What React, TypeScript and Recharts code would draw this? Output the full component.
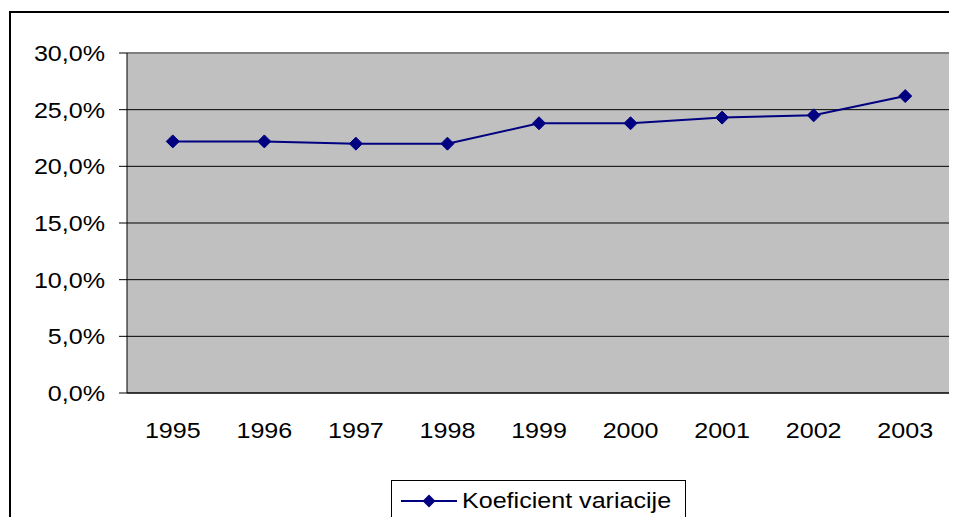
import React from 'react';
import {
  LineChart,
  Line,
  XAxis,
  YAxis,
  CartesianGrid,
  Legend,
  ReferenceLine,
} from 'recharts';

const years = ['1995', '1996', '1997', '1998', '1999', '2000', '2001', '2002', '2003'];
const koeficientVariacije = [0.222, 0.222, 0.22, 0.22, 0.238, 0.238, 0.243, 0.245, 0.262];
const yTicks = [0, 0.05, 0.1, 0.15, 0.2, 0.25, 0.3];
const seriesName = 'Koeficient variacije';

const data = years.map((year, i) => ({ year, pos: i + 0.5, value: koeficientVariacije[i] }));
const labelTicks = years.map((_, i) => i + 0.5);
const boundaryTicks = [0, ...years.map((_, i) => i + 1)];

const FONT = '"Liberation Sans", Arial, sans-serif';
const STRETCH = 1.14;
const NAVY = '#000080';

const pct = (v: number) => (v * 100).toFixed(1).replace('.', ',') + '%';

const YTick = (props: any) => {
  const { x, y, payload } = props;
  return (
    <g transform={`translate(${x},${y})`}>
      <text transform={`scale(${STRETCH},1)`} textAnchor="end" dy="0.36em" fontSize={22} fontFamily={FONT} fill="#000">
        {pct(payload.value)}
      </text>
    </g>
  );
};

const XTick = (props: any) => {
  const { x, y, payload } = props;
  return (
    <g transform={`translate(${x},${y})`}>
      <text transform={`scale(${STRETCH},1)`} textAnchor="middle" dy="0.71em" fontSize={22} fontFamily={FONT} fill="#000">
        {years[Math.floor(payload.value)]}
      </text>
    </g>
  );
};

const Diamond = (props: any) => {
  const { cx, cy, index } = props;
  const r = 6.5;
  return (
    <path
      key={index}
      d={`M${cx},${cy - r}L${cx + r},${cy}L${cx},${cy + r}L${cx - r},${cy}Z`}
      fill={NAVY}
      stroke={NAVY}
    />
  );
};

const LegendBox = () => (
  <div
    style={{
      boxSizing: 'border-box',
      width: 295,
      height: 42,
      border: '1px solid #000',
      background: '#fff',
      display: 'flex',
      alignItems: 'center',
      paddingLeft: 9,
      fontFamily: FONT,
      fontSize: 22,
      color: '#000',
      whiteSpace: 'nowrap',
    }}
  >
    <svg width={56} height={20} style={{ flex: 'none' }}>
      <line x1={0} y1={10} x2={56} y2={10} stroke={NAVY} strokeWidth={2} />
      <path d="M28,3.5L34.5,10L28,16.5L21.5,10Z" fill={NAVY} />
    </svg>
    <span style={{ display: 'inline-block', marginLeft: 5, transform: `scaleX(${STRETCH})`, transformOrigin: 'left center' }}>
      {seriesName}
    </span>
  </div>
);

export default function App() {
  return (
    <div style={{ position: 'relative', width: 957, height: 525, margin: -8, overflow: 'hidden', background: '#fff' }}>
      <div
        style={{
          position: 'absolute',
          left: 9,
          top: 11,
          right: 0,
          bottom: 0,
          borderTop: '2px solid #000',
          borderLeft: '2px solid #000',
        }}
      />
      <div style={{ position: 'absolute', left: 0, top: 0 }}>
        <LineChart width={957} height={525} data={data} margin={{ top: 53, right: 6, left: 0, bottom: 84 }}>
          <CartesianGrid vertical={false} fill="#C0C0C0" stroke="#000" strokeOpacity={1} />
          <XAxis
            xAxisId="bounds"
            type="number"
            dataKey="pos"
            domain={[0, years.length]}
            ticks={boundaryTicks}
            tick={false}
            tickSize={8}
            height={8}
            axisLine={{ stroke: '#000' }}
            tickLine={{ stroke: '#000' }}
          />
          <XAxis
            xAxisId="labels"
            type="number"
            dataKey="pos"
            domain={[0, years.length]}
            ticks={labelTicks}
            tick={<XTick />}
            tickSize={0}
            tickMargin={21}
            height={40}
            axisLine={false}
            tickLine={false}
            interval={0}
          />
          <YAxis
            domain={[0, 0.3]}
            ticks={yTicks}
            tick={<YTick />}
            tickSize={8}
            tickMargin={14}
            width={127}
            axisLine={{ stroke: '#000' }}
            tickLine={{ stroke: '#000' }}
            interval={0}
          />
          <ReferenceLine y={0.3} xAxisId="labels" stroke="#808080" strokeWidth={2} />
          <ReferenceLine x={years.length} xAxisId="labels" stroke="#808080" strokeWidth={2} />
          <Line
            xAxisId="labels"
            type="linear"
            dataKey="value"
            name={seriesName}
            stroke={NAVY}
            strokeWidth={2}
            dot={<Diamond />}
            activeDot={false}
            isAnimationActive={false}
          />
          <Legend
            layout="horizontal"
            verticalAlign="middle"
            align="center"
            content={<LegendBox />}
            wrapperStyle={{ position: 'absolute', left: 391, top: 480, width: 295, height: 42 }}
          />
        </LineChart>
      </div>
    </div>
  );
}
